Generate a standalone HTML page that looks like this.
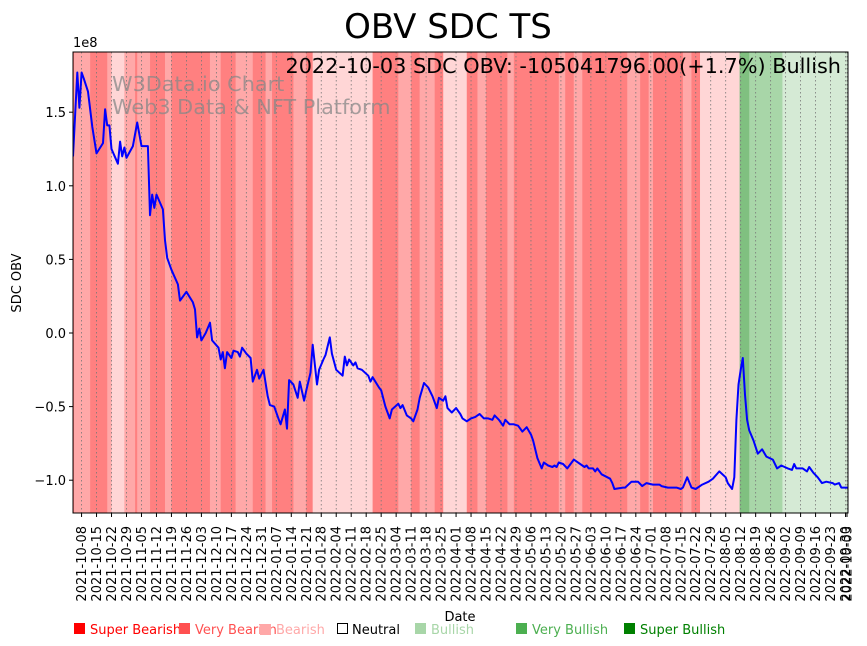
<!DOCTYPE html>
<html><head><meta charset="utf-8"><style>
body{margin:0;background:#fff;font-family:"Liberation Sans","DejaVu Sans",sans-serif;}
#wrap{position:relative;width:867px;height:646px;overflow:hidden}
svg text{font-family:"DejaVu Sans","Liberation Sans",sans-serif}
</style></head><body>
<div id="wrap">
<svg id="chart" width="867" height="646"></svg>
</div>
<script>
// Regime bands: start day offsets (from 2021-10-04) and categories
const bandStarts=[0,0.5,8,16,18,24,29,30,36,43,46,64,69,76,84,90,93,103,109,112,140,152,158,162,169,173,184,189,193,203,206,227,230,234,238,259,265,269,271,285,289,293,311.5,316,331.5];
const bandEnd=365;
const bandCats=["vbear","bear","vbear","bear","neutral","bear","vbear","bear","vbear","bear","vbear","bear","vbear","bear","vbear","bear","vbear","bear","vbear","neutral","vbear","bear","vbear","bear","vbear","neutral","vbear","bear","vbear","bear","vbear","bear","vbear","bear","vbear","bear","vbear","bear","vbear","bear","vbear","neutral","vbull","bull","wbull"];
// OBV series: day offsets and values (1e8)
const obvDays=[0,2,3,4,5,7,9,11,14,15,16,17,18,21,22,23,24,25,28,30,32,35,36,37,38,39,42,43,44,46,49,50,53,56,57,58,59,60,62,64,65,68,69,70,71,72,74,75,77,78,79,81,83,84,86,87,89,91,92,94,96,97,99,100,101,103,105,106,108,109,111,112,114,115,117,118,120,121,123,126,127,128,129,131,132,133,135,138,139,140,143,144,146,148,149,152,153,154,156,158,159,161,162,164,166,168,170,171,173,174,175,177,179,181,182,184,186,188,190,192,194,196,197,199,201,202,204,206,208,210,212,214,215,217,219,220,222,224,225,226,227,229,231,234,239,240,241,243,244,245,247,251,252,253,257,258,261,264,266,268,271,274,275,278,280,282,284,285,287,289,291,294,297,299,302,305,306,308,309,310,311,312,313,314,315,316,318,320,322,324,327,329,331,334,336,337,338,341,343,344,346,348,350,352,355,356,358,359,362];
const obvVals=[1.20,1.77,1.53,1.77,1.73,1.64,1.40,1.22,1.29,1.52,1.41,1.41,1.25,1.15,1.30,1.20,1.26,1.19,1.27,1.43,1.27,1.27,0.80,0.94,0.85,0.94,0.84,0.63,0.51,0.43,0.33,0.22,0.28,0.21,0.16,-0.03,0.03,-0.05,0.0,0.07,-0.05,-0.10,-0.18,-0.13,-0.24,-0.13,-0.17,-0.12,-0.13,-0.16,-0.10,-0.14,-0.17,-0.33,-0.25,-0.31,-0.25,-0.43,-0.49,-0.50,-0.58,-0.62,-0.52,-0.65,-0.32,-0.35,-0.44,-0.33,-0.46,-0.39,-0.27,-0.08,-0.35,-0.25,-0.18,-0.15,-0.03,-0.14,-0.25,-0.29,-0.16,-0.22,-0.18,-0.22,-0.20,-0.24,-0.25,-0.29,-0.33,-0.30,-0.37,-0.39,-0.50,-0.58,-0.52,-0.48,-0.51,-0.49,-0.56,-0.58,-0.60,-0.52,-0.44,-0.34,-0.37,-0.43,-0.51,-0.44,-0.46,-0.43,-0.51,-0.54,-0.51,-0.55,-0.58,-0.60,-0.58,-0.57,-0.55,-0.58,-0.58,-0.59,-0.56,-0.59,-0.63,-0.59,-0.62,-0.62,-0.63,-0.67,-0.64,-0.69,-0.73,-0.85,-0.92,-0.88,-0.90,-0.91,-0.90,-0.91,-0.88,-0.89,-0.92,-0.86,-0.91,-0.90,-0.92,-0.92,-0.94,-0.92,-0.96,-0.99,-1.02,-1.06,-1.05,-1.05,-1.01,-1.01,-1.04,-1.02,-1.03,-1.03,-1.04,-1.05,-1.05,-1.05,-1.06,-1.05,-0.98,-1.05,-1.06,-1.03,-1.01,-0.99,-0.94,-0.98,-1.02,-1.06,-0.98,-0.59,-0.35,-0.25,-0.17,-0.42,-0.59,-0.66,-0.73,-0.82,-0.79,-0.84,-0.86,-0.92,-0.90,-0.92,-0.93,-0.89,-0.92,-0.92,-0.94,-0.91,-0.95,-0.98,-1.02,-1.01,-1.02,-1.03,-1.02,-1.05,-1.05];
const yTicks=[1.5,1.0,0.5,0.0,-0.5,-1.0];
const yTickLabels=["1.5","1.0","0.5","0.0","−0.5","−1.0"];

const NS="http://www.w3.org/2000/svg";
const svg=document.getElementById('chart');
const L=73,R=848,T=52,B=513;
const startDate=Date.UTC(2021,9,4);
const pxPerDay=2.14;
const xs=d=>L+d*pxPerDay;
const ys=v=>333-v*147.2;
const colors={vbear:"#ff8080",bear:"#ffa8a8",neutral:"#ffd6d6",vbull:"#80c080",bull:"#a8d6a8",wbull:"#d5ead5"};
function mk(tag,attrs,parent){const e=document.createElementNS(NS,tag);for(const k in attrs)e.setAttribute(k,attrs[k]);(parent||svg).appendChild(e);return e;}

const clip=mk('clipPath',{id:'pc'});mk('rect',{x:L,y:T,width:R-L,height:B-T},clip);
const bg=mk('g',{'clip-path':'url(#pc)'});
bandStarts.forEach((s,i)=>{
  const e=i+1<bandStarts.length?bandStarts[i+1]:bandEnd;
  const r=mk('rect',{x:xs(s),y:T,width:xs(e)-xs(s)+0.3,height:B-T,fill:colors[bandCats[i]]},bg);
  
  
});
const fmt=t=>{const d=new Date(t);return d.getUTCFullYear()+"-"+String(d.getUTCMonth()+1).padStart(2,'0')+"-"+String(d.getUTCDate()).padStart(2,'0');};
const tickDays=[];for(let d=4;d<=361;d+=7)tickDays.push(d);tickDays.push(364);
tickDays.forEach(d=>{
  const x=Math.min(xs(d),R-1);
  const g=mk('line',{x1:x,x2:x,y1:T,y2:B,stroke:"#777","stroke-width":0.8,"stroke-dasharray":"1.5,2.5"},bg);
  
  
  mk('line',{x1:x,x2:x,y1:B,y2:B+4,stroke:"#000","stroke-width":1});
  const t=mk('text',{x:0,y:0,'font-size':13,fill:"#000",'text-anchor':'end',transform:`translate(${x+4.5},${B+13}) rotate(-90)`});
  t.textContent=fmt(startDate+d*86400000);
  
  
});
let p="";obvDays.forEach((d,i)=>{p+=(i?"L":"M")+xs(d).toFixed(1)+","+ys(obvVals[i]).toFixed(1);});
const line=mk('path',{d:p,fill:"none",stroke:"#0000ff","stroke-width":2,"stroke-linejoin":"round"},bg);


mk('rect',{x:L,y:T,width:R-L,height:B-T,fill:"none",stroke:"#000","stroke-width":1});
yTicks.forEach((v,i)=>{
  const y=ys(v);
  mk('line',{x1:L-4,x2:L,y1:y,y2:y,stroke:"#000"});
  const t=mk('text',{x:L-7,y:y+5,'font-size':13,'text-anchor':'end'});
  t.textContent=yTickLabels[i];
  
  
});
</script>
<svg width="867" height="646" style="position:absolute;left:0;top:0;pointer-events:none">
<text x="448" y="38" font-size="34" text-anchor="middle" font-family="DejaVu Sans">OBV SDC TS</text>
<text x="73" y="47" font-size="13" font-family="DejaVu Sans">1e8</text>
<text x="841" y="73" font-size="20.8" text-anchor="end" font-family="DejaVu Sans">2022-10-03 SDC OBV: -105041796.00(+1.7%) Bullish</text>
<text x="112" y="91" font-size="20.8" fill="#888" fill-opacity="0.75" font-family="DejaVu Sans">W3Data.io Chart</text>
<text x="112" y="114" font-size="20.8" fill="#888" fill-opacity="0.75" font-family="DejaVu Sans">Web3 Data &amp; NFT Platform</text>
<text transform="translate(21,283) rotate(-90)" font-size="13" text-anchor="middle" font-family="DejaVu Sans">SDC OBV</text>
<text x="460" y="621" font-size="13" text-anchor="middle" font-family="DejaVu Sans">Date</text>
<g font-size="13" font-family="DejaVu Sans">
<rect x="74" y="623" width="11" height="11" fill="#ff0000"/><text x="90" y="634" fill="#ff0000">Super Bearish</text>
<rect x="179" y="623" width="11" height="11" fill="#ff5050"/><text x="195" y="634" fill="#ff5050">Very Bearish</text>
<rect x="260" y="624" width="11" height="11" fill="#ffa8a8"/><text x="276" y="634" fill="#ffa8a8">Bearish</text>
<rect x="337.5" y="623.5" width="10" height="10" fill="none" stroke="#000"/><text x="352" y="634" fill="#000">Neutral</text>
<rect x="415" y="623" width="11" height="11" fill="#a8d6a8"/><text x="431" y="634" fill="#a8d6a8">Bullish</text>
<rect x="516" y="623" width="11" height="11" fill="#4caf50"/><text x="532" y="634" fill="#4caf50">Very Bullish</text>
<rect x="624" y="623" width="11" height="11" fill="#008000"/><text x="640" y="634" fill="#008000">Super Bullish</text>
</g>
</svg>
</body></html>
